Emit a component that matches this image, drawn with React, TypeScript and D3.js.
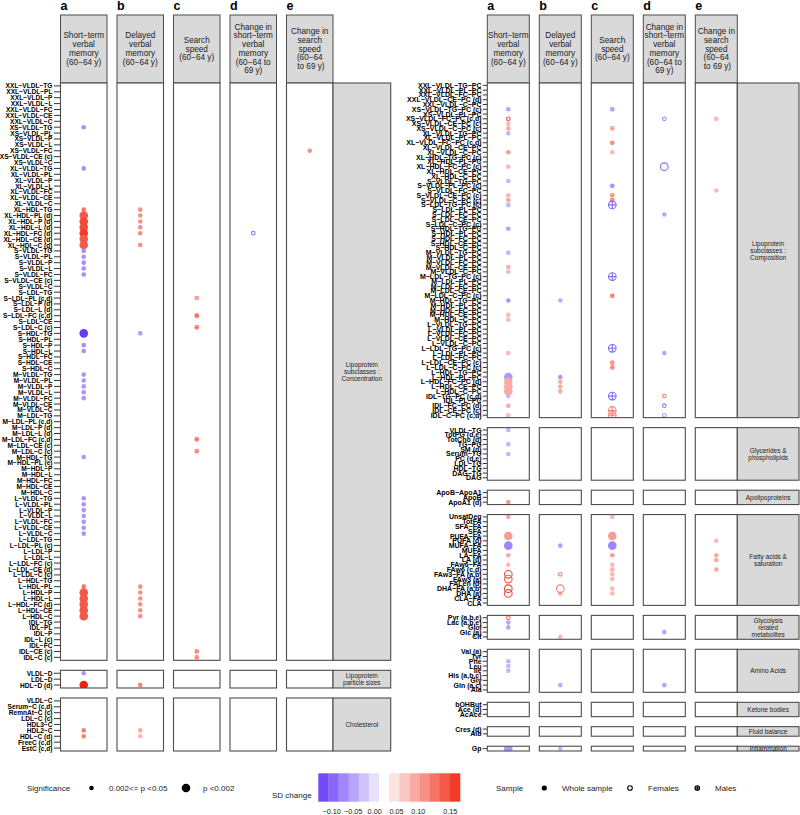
import * as d3 from "d3";

type Dot = [string, string, number, number, string]; // column, row, SD change, big (p<0.002), sample

const COLS = ["a", "b", "c", "d", "e"];
const HEADERS = [
  ["Short-term", "verbal", "memory", "(60-64 y)"],
  ["Delayed", "verbal", "memory", "(60-64 y)"],
  ["Search", "speed", "(60-64 y)"],
  ["Change in", "short-term", "verbal", "memory", "(60-64 to", "69 y)"],
  ["Change in", "search", "speed", "(60-64", " to 69 y)"],
];

// ---- left half rows ----
const CONC_ROWS = [
  "XXL-VLDL-TG", "XXL-VLDL-PL", "XXL-VLDL-P", "XXL-VLDL-L", "XXL-VLDL-FC", "XXL-VLDL-CE", "XXL-VLDL-C",
  "XS-VLDL-TG", "XS-VLDL-PL", "XS-VLDL-P", "XS-VLDL-L", "XS-VLDL-FC", "XS-VLDL-CE (c)", "XS-VLDL-C",
  "XL-VLDL-TG", "XL-VLDL-PL", "XL-VLDL-P", "XL-VLDL-L", "XL-VLDL-FC", "XL-VLDL-CE", "XL-VLDL-C",
  "XL-HDL-TG", "XL-HDL-PL (d)", "XL-HDL-P (d)", "XL-HDL-L (d)", "XL-HDL-FC (d)", "XL-HDL-CE (d)", "XL-HDL-C (d)",
  "S-VLDL-TG", "S-VLDL-PL", "S-VLDL-P", "S-VLDL-L", "S-VLDL-FC", "S-VLDL-CE (c)", "S-VLDL-C",
  "S-LDL-TG", "S-LDL-PL (c,d)", "S-LDL-P (d)", "S-LDL-L (d)", "S-LDL-FC (c,d)", "S-LDL-CE", "S-LDL-C (c)",
  "S-HDL-TG", "S-HDL-PL", "S-HDL-P", "S-HDL-L", "S-HDL-FC", "S-HDL-CE", "S-HDL-C",
  "M-VLDL-TG", "M-VLDL-PL", "M-VLDL-P", "M-VLDL-L", "M-VLDL-FC", "M-VLDL-CE", "M-VLDL-C",
  "M-LDL-TG", "M-LDL-PL (c,d)", "M-LDL-P (d)", "M-LDL-L (d)", "M-LDL-FC (c,d)", "M-LDL-CE (c)", "M-LDL-C (c)",
  "M-HDL-TG", "M-HDL-PL (e)", "M-HDL-P", "M-HDL-L", "M-HDL-FC", "M-HDL-CE", "M-HDL-C",
  "L-VLDL-TG", "L-VLDL-PL", "L-VLDL-P", "L-VLDL-L", "L-VLDL-FC", "L-VLDL-CE", "L-VLDL-C",
  "L-LDL-TG", "L-LDL-PL (c)", "L-LDL-P", "L-LDL-L", "L-LDL-FC (c)", "L-LDL-CE (d)", "L-LDL-C (c)",
  "L-HDL-TG", "L-HDL-PL", "L-HDL-P", "L-HDL-L", "L-HDL-FC (d)", "L-HDL-CE", "L-HDL-C",
  "IDL-TG", "IDL-PL", "IDL-P", "IDL-L (c)", "IDL-FC", "IDL-CE (c)", "IDL-C (c)",
];
const SIZE_ROWS = ["VLDL-D", "LDL-D", "HDL-D (d)"];
const CHOL_ROWS = ["VLDL-C", "Serum-C (c,d)", "RemnAt-C (c)", "LDL-C (c)", "HDL3-C", "HDL2-C", "HDL-C (d)", "FreeC (c,d)", "EstC (c,d)"];

const CONC_DOTS: Dot[] = [
  ["a", "XS-VLDL-TG", -0.075, 0, "w"],
  ["a", "XL-VLDL-TG", -0.075, 0, "w"],
  ["a", "XL-HDL-TG", 0.1, 0, "w"],
  ["a", "XL-HDL-PL (d)", 0.12, 1, "w"],
  ["a", "XL-HDL-P (d)", 0.13, 1, "w"],
  ["a", "XL-HDL-L (d)", 0.13, 1, "w"],
  ["a", "XL-HDL-FC (d)", 0.14, 1, "w"],
  ["a", "XL-HDL-CE (d)", 0.12, 1, "w"],
  ["a", "XL-HDL-C (d)", 0.12, 1, "w"],
  ["a", "S-VLDL-TG", -0.075, 0, "w"],
  ["a", "S-VLDL-PL", -0.075, 0, "w"],
  ["a", "S-VLDL-P", -0.075, 0, "w"],
  ["a", "S-VLDL-L", -0.075, 0, "w"],
  ["a", "S-VLDL-FC", -0.075, 0, "w"],
  ["a", "S-HDL-TG", -0.13, 1, "w"],
  ["a", "S-HDL-P", -0.075, 0, "w"],
  ["a", "S-HDL-L", -0.075, 0, "w"],
  ["a", "M-VLDL-TG", -0.07, 0, "w"],
  ["a", "M-VLDL-PL", -0.07, 0, "w"],
  ["a", "M-VLDL-P", -0.07, 0, "w"],
  ["a", "M-VLDL-L", -0.07, 0, "w"],
  ["a", "M-VLDL-FC", -0.07, 0, "w"],
  ["a", "M-HDL-TG", -0.07, 0, "w"],
  ["a", "L-VLDL-TG", -0.07, 0, "w"],
  ["a", "L-VLDL-PL", -0.07, 0, "w"],
  ["a", "L-VLDL-P", -0.07, 0, "w"],
  ["a", "L-VLDL-L", -0.07, 0, "w"],
  ["a", "L-VLDL-FC", -0.07, 0, "w"],
  ["a", "L-VLDL-CE", -0.07, 0, "w"],
  ["a", "L-VLDL-C", -0.07, 0, "w"],
  ["a", "L-HDL-PL", 0.1, 0, "w"],
  ["a", "L-HDL-P", 0.12, 1, "w"],
  ["a", "L-HDL-L", 0.12, 1, "w"],
  ["a", "L-HDL-FC (d)", 0.12, 1, "w"],
  ["a", "L-HDL-CE", 0.12, 1, "w"],
  ["a", "L-HDL-C", 0.12, 1, "w"],
  ["b", "XL-HDL-TG", 0.08, 0, "w"],
  ["b", "XL-HDL-PL (d)", 0.08, 0, "w"],
  ["b", "XL-HDL-P (d)", 0.08, 0, "w"],
  ["b", "XL-HDL-L (d)", 0.08, 0, "w"],
  ["b", "XL-HDL-FC (d)", 0.08, 0, "w"],
  ["b", "XL-HDL-C (d)", 0.08, 0, "w"],
  ["b", "S-HDL-TG", -0.065, 0, "w"],
  ["b", "L-HDL-PL", 0.08, 0, "w"],
  ["b", "L-HDL-P", 0.08, 0, "w"],
  ["b", "L-HDL-L", 0.08, 0, "w"],
  ["b", "L-HDL-FC (d)", 0.08, 0, "w"],
  ["b", "L-HDL-CE", 0.08, 0, "w"],
  ["b", "L-HDL-C", 0.08, 0, "w"],
  ["c", "S-LDL-PL (c,d)", 0.08, 0, "m"],
  ["c", "S-LDL-FC (c,d)", 0.11, 0, "m"],
  ["c", "S-LDL-C (c)", 0.1, 0, "m"],
  ["c", "M-LDL-FC (c,d)", 0.1, 0, "m"],
  ["c", "M-LDL-C (c)", 0.09, 0, "m"],
  ["c", "IDL-CE (c)", 0.09, 0, "m"],
  ["c", "IDL-C (c)", 0.09, 0, "m"],
  ["d", "XL-HDL-FC (d)", -0.09, 0, "f"],
  ["e", "XS-VLDL-FC", 0.08, 0, "w"],
];
const SIZE_DOTS: Dot[] = [
  ["a", "VLDL-D", -0.07, 0, "w"],
  ["a", "HDL-D (d)", 0.17, 1, "w"],
  ["b", "HDL-D (d)", 0.09, 0, "w"],
];
const CHOL_DOTS: Dot[] = [
  ["a", "HDL2-C", 0.09, 0, "w"],
  ["a", "HDL-C (d)", 0.09, 0, "w"],
  ["b", "HDL2-C", 0.06, 0, "w"],
  ["b", "HDL-C (d)", 0.05, 0, "w"],
];

// ---- right half rows ----
const COMP_ROWS = [
  "XXL-VLDL-TG-PC", "XXL-VLDL-PL-PC", "XXL-VLDL-FC-PC", "XXL-VLDL-CE-PC (d)", "XXL-VLDL-C-PC",
  "XS-VLDL-TG-PC (c)", "XS-VLDL-PL-PC", "XS-VLDL-FC-PC (c,d)", "XS-VLDL-CE-PC (c)", "XS-VLDL-C-PC (c)",
  "XL-VLDL-TG-PC", "XL-VLDL-PL-PC", "XL-VLDL-FC-PC (c,d)", "XL-VLDL-CE-PC", "XL-VLDL-C-PC",
  "XL-HDL-TG-PC (c)", "XL-HDL-PL-PC", "XL-HDL-FC-PC (c)", "XL-HDL-CE-PC", "XL-HDL-C-PC",
  "S-VLDL-TG-PC", "S-VLDL-PL-PC (c)", "S-VLDL-FC-PC", "S-VLDL-CE-PC (c)", "S-VLDL-C-PC (c)",
  "S-LDL-TG-PC (c)", "S-LDL-PL-PC", "S-LDL-FC-PC", "S-LDL-CE-PC", "S-LDL-C-PC (c)",
  "S-HDL-TG-PC", "S-HDL-PL-PC", "S-HDL-FC-PC", "S-HDL-CE-PC", "S-HDL-C-PC",
  "M-VLDL-TG-PC", "M-VLDL-PL-PC", "M-VLDL-FC-PC", "M-VLDL-CE-PC", "M-VLDL-C-PC",
  "M-LDL-TG-PC (c)", "M-LDL-PL-PC", "M-LDL-FC-PC", "M-LDL-CE-PC", "M-LDL-C-PC (c)",
  "M-HDL-TG-PC", "M-HDL-PL-PC", "M-HDL-FC-PC", "M-HDL-CE-PC", "M-HDL-C-PC",
  "L-VLDL-TG-PC", "L-VLDL-PL-PC", "L-VLDL-FC-PC", "L-VLDL-CE-PC", "L-VLDL-C-PC",
  "L-LDL-TG-PC (c)", "L-LDL-PL-PC", "L-LDL-FC-PC", "L-LDL-CE-PC (c)", "L-LDL-C-PC (c)",
  "L-HDL-TG-PC", "L-HDL-PL-PC", "L-HDL-FC-PC (d)", "L-HDL-CE-PC", "L-HDL-C-PC",
  "IDL-TG-PC (c,d)", "IDL-PL-PC", "IDL-FC-PC (d)", "IDL-CE-PC (c)", "IDL-C-PC (c,d)",
];
const GLY_ROWS = ["VLDL-TG", "TotPG (d,e)", "TotCho (d)", "TG-PG", "SM (d)", "Serum-TG", "PC (d,e)", "LDL-TG", "HDL-TG", "DAG-TG", "DAG"];
const APO_ROWS = ["ApoB-ApoA1", "ApoB", "ApoA1 (d)"];
const FA_ROWS = [
  "UnsatDeg", "TotFA", "SFA-FA", "SFA", "PUFA-FA", "PUFA (d)", "MUFA-FA", "MUFA", "LA-FA", "LA (d)",
  "FAw6-FA", "FAw6 (c,d)", "FAw3-FA (a,b)", "FAw3 (a)", "FALen (d)", "DHA-FA (a,b)", "DHA (a)", "CLA-FA", "CLA",
];
const GLYC_ROWS = ["Pyr (a,b,e)", "Lac (a,b,e)", "Glol", "Glc (a)", "Cit"];
const AA_ROWS = ["Val (a)", "Tyr", "Phe", "Leu", "Ile", "His (a,b,c)", "Gly", "Gln (a,c)", "Ala"];
const KET_ROWS = ["bOHBut", "Ace (d)", "AcAce"];
const FLUID_ROWS = ["Cres (d)", "Alb"];
const INFL_ROWS = ["Gp"];

const COMP_DOTS: Dot[] = [
  ["a", "XS-VLDL-TG-PC (c)", -0.06, 0, "w"],
  ["a", "XS-VLDL-FC-PC (c,d)", 0.12, 0, "f"],
  ["a", "XS-VLDL-CE-PC (c)", 0.05, 0, "w"],
  ["a", "XS-VLDL-C-PC (c)", 0.06, 0, "w"],
  ["a", "XL-VLDL-TG-PC", -0.05, 0, "w"],
  ["a", "XL-VLDL-C-PC", 0.07, 0, "w"],
  ["a", "XL-HDL-FC-PC (c)", 0.05, 0, "w"],
  ["a", "S-VLDL-TG-PC", -0.05, 0, "w"],
  ["a", "S-VLDL-CE-PC (c)", 0.05, 0, "w"],
  ["a", "S-VLDL-C-PC (c)", 0.06, 0, "w"],
  ["a", "S-LDL-TG-PC (c)", -0.05, 0, "w"],
  ["a", "S-HDL-TG-PC", -0.06, 0, "w"],
  ["a", "M-VLDL-TG-PC", -0.05, 0, "w"],
  ["a", "M-VLDL-CE-PC", 0.06, 0, "w"],
  ["a", "M-VLDL-C-PC", 0.05, 0, "w"],
  ["a", "M-HDL-TG-PC", -0.07, 0, "w"],
  ["a", "M-HDL-CE-PC", 0.05, 0, "w"],
  ["a", "M-HDL-C-PC", 0.05, 0, "w"],
  ["a", "L-LDL-PL-PC", 0.05, 0, "w"],
  ["a", "L-HDL-PL-PC", -0.07, 1, "w"],
  ["a", "L-HDL-FC-PC (d)", 0.06, 1, "w"],
  ["a", "L-HDL-CE-PC", 0.06, 1, "w"],
  ["a", "L-HDL-C-PC", 0.06, 1, "w"],
  ["a", "IDL-TG-PC (c,d)", -0.05, 0, "w"],
  ["a", "IDL-FC-PC (d)", 0.06, 0, "w"],
  ["a", "IDL-C-PC (c,d)", 0.05, 0, "w"],
  ["b", "M-HDL-TG-PC", -0.055, 0, "w"],
  ["b", "L-HDL-PL-PC", -0.07, 0, "w"],
  ["b", "L-HDL-FC-PC (d)", 0.06, 0, "w"],
  ["b", "L-HDL-CE-PC", 0.06, 0, "w"],
  ["b", "L-HDL-C-PC", 0.06, 0, "w"],
  ["c", "XS-VLDL-TG-PC (c)", -0.07, 0, "m"],
  ["c", "XS-VLDL-C-PC (c)", 0.07, 0, "m"],
  ["c", "XL-VLDL-FC-PC (c,d)", 0.09, 0, "m"],
  ["c", "XL-VLDL-C-PC", 0.05, 0, "w"],
  ["c", "S-VLDL-PL-PC (c)", -0.08, 0, "m"],
  ["c", "S-VLDL-CE-PC (c)", 0.08, 0, "m"],
  ["c", "S-VLDL-C-PC (c)", 0.09, 0, "m"],
  ["c", "S-LDL-TG-PC (c)", -0.1, 1, "m"],
  ["c", "M-LDL-TG-PC (c)", -0.1, 1, "m"],
  ["c", "M-LDL-C-PC (c)", 0.1, 0, "m"],
  ["c", "L-LDL-TG-PC (c)", -0.1, 1, "m"],
  ["c", "L-LDL-CE-PC (c)", 0.08, 0, "m"],
  ["c", "L-LDL-C-PC (c)", 0.09, 0, "m"],
  ["c", "IDL-TG-PC (c,d)", -0.1, 1, "m"],
  ["c", "IDL-CE-PC (c)", 0.09, 1, "m"],
  ["c", "IDL-C-PC (c,d)", 0.09, 1, "m"],
  ["d", "XS-VLDL-FC-PC (c,d)", -0.08, 0, "f"],
  ["d", "XL-HDL-FC-PC (c)", -0.1, 1, "f"],
  ["d", "S-LDL-FC-PC", -0.06, 0, "w"],
  ["d", "L-LDL-PL-PC", -0.06, 0, "w"],
  ["d", "IDL-TG-PC (c,d)", 0.09, 0, "f"],
  ["d", "IDL-FC-PC (d)", -0.09, 0, "f"],
  ["d", "IDL-C-PC (c,d)", -0.07, 0, "f"],
  ["e", "XS-VLDL-FC-PC (c,d)", 0.05, 0, "w"],
  ["e", "S-VLDL-FC-PC", 0.05, 0, "w"],
];
const GLY_DOTS: Dot[] = [
  ["a", "VLDL-TG", -0.05, 0, "w"],
  ["a", "TG-PG", -0.05, 0, "w"],
  ["a", "Serum-TG", -0.05, 0, "w"],
];
const APO_DOTS: Dot[] = [["a", "ApoA1 (d)", 0.07, 0, "w"]];
const FA_DOTS: Dot[] = [
  ["a", "UnsatDeg", 0.06, 0, "w"],
  ["a", "PUFA-FA", 0.07, 1, "w"],
  ["a", "MUFA-FA", -0.08, 1, "w"],
  ["a", "LA-FA", 0.06, 0, "w"],
  ["a", "FAw6-FA", 0.05, 0, "w"],
  ["a", "FAw3-FA (a,b)", 0.13, 1, "f"],
  ["a", "FAw3 (a)", 0.12, 1, "f"],
  ["a", "DHA-FA (a,b)", 0.14, 1, "f"],
  ["a", "DHA (a)", 0.13, 1, "f"],
  ["b", "MUFA-FA", -0.065, 0, "w"],
  ["b", "FAw3-FA (a,b)", 0.09, 0, "f"],
  ["b", "DHA (a)", 0.06, 0, "w"],
  ["b", "DHA-FA (a,b)", 0.09, 1, "f"],
  ["c", "UnsatDeg", 0.05, 0, "w"],
  ["c", "PUFA-FA", 0.07, 1, "w"],
  ["c", "MUFA-FA", -0.08, 1, "w"],
  ["c", "LA-FA", 0.07, 0, "w"],
  ["c", "FAw6-FA", 0.05, 0, "w"],
  ["c", "FAw6 (c,d)", 0.06, 0, "m"],
  ["c", "FAw3-FA (a,b)", 0.05, 0, "w"],
  ["c", "FAw3 (a)", 0.05, 0, "w"],
  ["c", "DHA-FA (a,b)", 0.05, 0, "w"],
  ["c", "DHA (a)", 0.05, 0, "w"],
  ["e", "PUFA (d)", 0.05, 0, "w"],
  ["e", "LA-FA", 0.06, 0, "w"],
  ["e", "LA (d)", 0.06, 0, "w"],
  ["e", "FAw6 (c,d)", 0.06, 0, "w"],
];
const GLYC_DOTS: Dot[] = [
  ["a", "Pyr (a,b,e)", 0.1, 0, "f"],
  ["a", "Lac (a,b,e)", -0.06, 0, "w"],
  ["a", "Glol", -0.06, 0, "w"],
  ["b", "Cit", 0.05, 0, "w"],
  ["d", "Glc (a)", -0.06, 0, "w"],
];
const AA_DOTS: Dot[] = [
  ["a", "Phe", -0.05, 0, "w"],
  ["a", "Leu", -0.05, 0, "w"],
  ["a", "Ile", -0.05, 0, "w"],
  ["b", "Gln (a,c)", -0.055, 0, "w"],
  ["d", "Gln (a,c)", -0.06, 0, "w"],
];
const INFL_DOTS: Dot[] = [
  ["a", "Gp", -0.07, 1, "w"],
  ["b", "Gp", -0.05, 0, "w"],
];

const LEGEND_STEPS = [-0.12, -0.1, -0.08, -0.06, -0.04, -0.02, 0, 0.02, 0.04, 0.06, 0.08, 0.1, 0.12, 0.14];
const LEGEND_TICKS = [-0.1, -0.05, 0, 0.05, 0.1, 0.15];

const LEFT_GROUPS = [
  { rows: CONC_ROWS, dots: CONC_DOTS, strip: ["Lipoprotein", "subclasses :", "Concentration"] },
  { rows: SIZE_ROWS, dots: SIZE_DOTS, strip: ["Lipoprotein", "particle sizes"] },
  { rows: CHOL_ROWS, dots: CHOL_DOTS, strip: ["Cholesterol"] },
];
const RIGHT_GROUPS = [
  { rows: COMP_ROWS, dots: COMP_DOTS, strip: ["Lipoprotein", "subclasses :", "Composition"] },
  { rows: GLY_ROWS, dots: GLY_DOTS, strip: ["Glycerides &", "phospholipids"] },
  { rows: APO_ROWS, dots: APO_DOTS, strip: ["Apolipoproteins"] },
  { rows: FA_ROWS, dots: FA_DOTS, strip: ["Fatty acids &", "saturation"] },
  { rows: GLYC_ROWS, dots: GLYC_DOTS, strip: ["Glycolysis", "related", "metabolites"] },
  { rows: AA_ROWS, dots: AA_DOTS, strip: ["Amino Acids"] },
  { rows: KET_ROWS, dots: [] as Dot[], strip: ["Ketone bodies"] },
  { rows: FLUID_ROWS, dots: [] as Dot[], strip: ["Fluid balance"] },
  { rows: INFL_ROWS, dots: INFL_DOTS, strip: ["Inflammation"] },
];

const TOP = 83;
const BOTTOM = 751;
const GAP = 10;
const BORDER = "#4d4d4d";
const STRIP_FILL = "#d9d9d9";
const FONT = "'Liberation Sans', Arial, Helvetica, sans-serif";

const color = d3
  .scaleLinear<string>()
  .domain([-0.14, 0, 0.16])
  .range(["#5a2cf5", "#ffffff", "#f0200a"])
  .clamp(true);

const minus = (s: string) => s.replace(/-/g, "\u2212");

type Group = { rows: string[]; dots: Dot[]; strip: string[] };

function layout(groups: Group[]) {
  const n = d3.sum(groups, (g) => g.rows.length);
  const step = (BOTTOM - TOP - GAP * (groups.length - 1)) / n;
  let y = TOP;
  return groups.map((g) => {
    const h = g.rows.length * step;
    const out = { ...g, y, h };
    y += h + GAP;
    return out;
  });
}

function Mark({ cx, cy, r, c, s }: { cx: number; cy: number; r: number; c: string; s: string }) {
  if (s === "w") return <circle cx={cx} cy={cy} r={r} fill={c} />;
  if (s === "f") return <circle cx={cx} cy={cy} r={r - 0.5} fill="none" stroke={c} strokeWidth={1.1} />;
  return (
    <g stroke={c} strokeWidth={1.1} fill="none">
      <circle cx={cx} cy={cy} r={r - 0.5} />
      <line x1={cx - r + 0.5} x2={cx + r - 0.5} y1={cy} y2={cy} />
      <line x1={cx} x2={cx} y1={cy - r + 0.5} y2={cy + r - 0.5} />
    </g>
  );
}

function Half({
  id, x0, x1, stripX1, groups, labelSize, tickLen, labelGap,
}: {
  id: string; x0: number; x1: number; stripX1: number; groups: Group[];
  labelSize: number; tickLen: number; labelGap: number;
}) {
  const step = (x1 - x0 + GAP) / COLS.length;
  const band = d3.scaleBand().domain(COLS).range([x0, x1]).paddingInner(GAP / step).paddingOuter(0);
  const bw = band.bandwidth();
  const laid = layout(groups);
  const stripW = stripX1 - x1;
  return (
    <g>
      {COLS.map((c, i) => {
        const bx = band(c)!;
        const lines = HEADERS[i];
        const lh = 8.7;
        return (
          <g key={c}>
            <text x={bx} y={10} fontSize={12.5} fontWeight="bold" fill="#000">{c}</text>
            <rect x={bx} y={15} width={bw} height={TOP - 15} fill={STRIP_FILL} stroke={BORDER} strokeWidth={1} />
            {lines.map((l, j) => (
              <text key={j} x={bx + bw / 2} y={49 + (j - (lines.length - 1) / 2) * lh} textAnchor="middle"
                dominantBaseline="central" fontSize={8.2} fill="#222" xmlSpace="preserve">{minus(l)}</text>
            ))}
          </g>
        );
      })}
      {laid.map((g, gi) => {
        const ys = d3.scalePoint<string>().domain(g.rows).range([g.y, g.y + g.h]).padding(0.5);
        const stripId = `${id}-strip-${gi}`;
        return (
          <g key={gi}>
            {g.rows.map((r) => (
              <g key={r}>
                <line x1={x0 - tickLen} x2={x0} y1={ys(r)} y2={ys(r)} stroke="#000" strokeWidth={0.8} />
                <text x={x0 - tickLen - labelGap} y={ys(r)} textAnchor="end" dominantBaseline="central"
                  fontSize={labelSize} fontWeight="bold" fill="#000">{minus(r)}</text>
              </g>
            ))}
            {COLS.map((c) => {
              const bx = band(c)!;
              const cid = `${id}-clip-${gi}-${c}`;
              return (
                <g key={c}>
                  <clipPath id={cid}>
                    <rect x={bx} y={g.y} width={bw} height={g.h} />
                  </clipPath>
                  <rect x={bx} y={g.y} width={bw} height={g.h} fill="#fff" />
                  <g clipPath={`url(#${cid})`}>
                    {g.dots.filter((d) => d[0] === c).map((d, k) => (
                      <Mark key={k} cx={bx + bw / 2} cy={ys(d[1])!} r={d[3] ? 4.3 : 2.3} c={color(d[2])} s={d[4]} />
                    ))}
                  </g>
                  <rect x={bx} y={g.y} width={bw} height={g.h} fill="none" stroke={BORDER} strokeWidth={1.1} />
                </g>
              );
            })}
            <clipPath id={stripId}>
              <rect x={x1} y={g.y} width={stripW} height={g.h} />
            </clipPath>
            <rect x={x1} y={g.y} width={stripW} height={g.h} fill={STRIP_FILL} stroke={BORDER} strokeWidth={1.1} />
            <g clipPath={`url(#${stripId})`}>
              {g.strip.map((l, j) => (
                <text key={j} x={x1 + stripW / 2} y={g.y + g.h / 2 + (j - (g.strip.length - 1) / 2) * 7}
                  textAnchor="middle" dominantBaseline="central" fontSize={6.5} fill="#222">{l}</text>
              ))}
            </g>
          </g>
        );
      })}
    </g>
  );
}

function Legend() {
  const ly = 788;
  const bx = d3.scaleBand<number>().domain(LEGEND_STEPS).range([318.3, 460]);
  const tx = d3.scaleLinear().domain([-0.1, 0, 0.1, 0.15]).range([331.7, 374.7, 418.3, 450.3]);
  const fs = 8;
  return (
    <g fontSize={fs} fill="#222">
      <text x={27} y={ly} dominantBaseline="central">Significance</text>
      <circle cx={91.5} cy={ly} r={2.3} fill="#000" />
      <text x={109} y={ly} dominantBaseline="central">0.002&lt;= p &lt;0.05</text>
      <circle cx={186} cy={ly} r={4.3} fill="#000" />
      <text x={203} y={ly} dominantBaseline="central">p &lt;0.002</text>

      <text x={272} y={795} dominantBaseline="central">SD change</text>
      {LEGEND_STEPS.map((v) => (
        <rect key={v} x={bx(v)} y={773.3} width={bx.bandwidth() + 0.3} height={28.4} fill={color(v)} />
      ))}
      {LEGEND_TICKS.map((v) => (
        <text key={v} x={tx(v)} y={811} textAnchor="middle" dominantBaseline="central" fontSize={7.3}>
          {minus(v.toFixed(2))}
        </text>
      ))}

      <text x={496} y={ly} dominantBaseline="central">Sample</text>
      <Mark cx={544.3} cy={ly} r={2.6} c="#000" s="w" />
      <text x={562} y={ly} dominantBaseline="central">Whole sample</text>
      <Mark cx={630} cy={ly} r={2.8} c="#000" s="f" />
      <text x={648} y={ly} dominantBaseline="central">Females</text>
      <Mark cx={697.3} cy={ly} r={2.8} c="#000" s="m" />
      <text x={715} y={ly} dominantBaseline="central">Males</text>
    </g>
  );
}

export default function App() {
  return (
    <svg width={800} height={815} fontFamily={FONT}
      style={{ position: "absolute", left: 0, top: 0, background: "#fff" }}>
      <Half id="L" x0={60.5} x1={333} stripX1={390.7} groups={LEFT_GROUPS} labelSize={6.6} tickLen={6.5} labelGap={1.5} />
      <Half id="R" x0={487.3} x1={737.3} stripX1={799} groups={RIGHT_GROUPS} labelSize={7} tickLen={4.5} labelGap={1.2} />
      <Legend />
    </svg>
  );
}
